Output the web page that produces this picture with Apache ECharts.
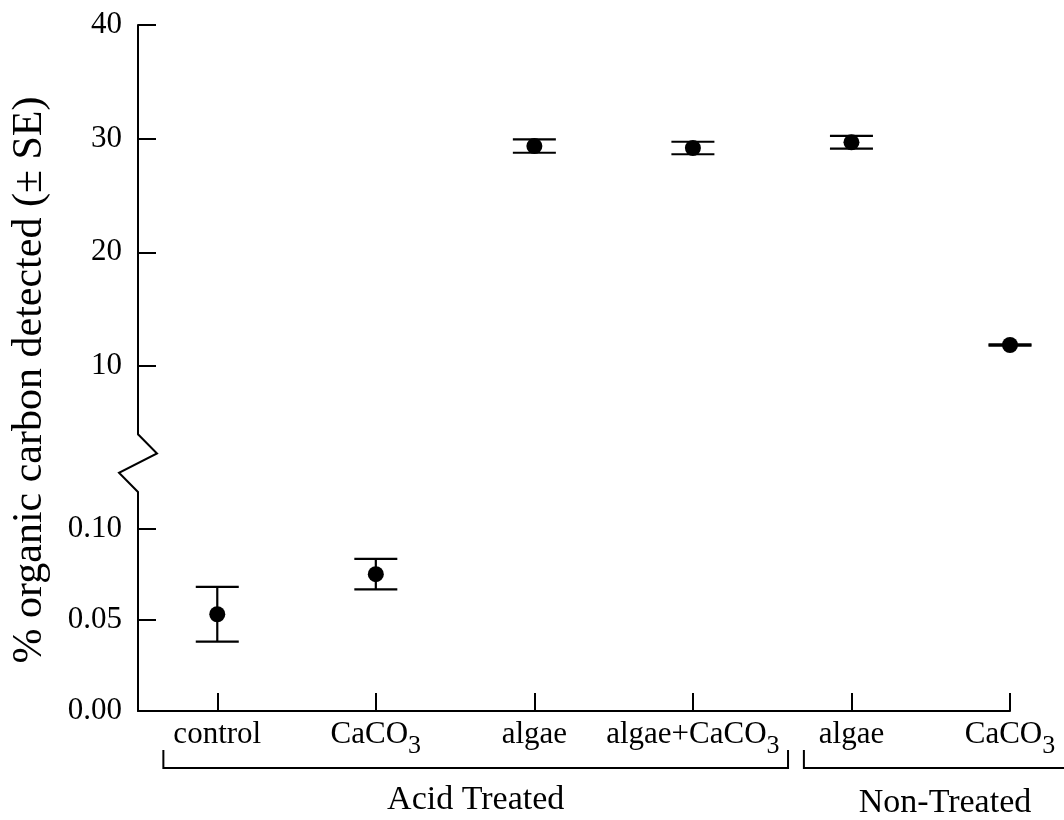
<!DOCTYPE html>
<html><head><meta charset="utf-8">
<script src="https://cdn.jsdelivr.net/npm/echarts@6/dist/echarts.min.js"></script>
<style>html,body{margin:0;padding:0;background:#fff}#c{width:1064px;height:820px}</style>
</head><body><div id="c"></div><script>
// ---- data ----
const categories = ['control', 'CaCO3', 'algae', 'algae+CaCO3', 'algae', 'CaCO3'];
const groups = ['Acid Treated', 'Non-Treated'];
const means = [0.053, 0.075, 29.35, 29.18, 29.68, 11.85];
const se = [0.015, 0.0084, 0.59, 0.55, 0.56, 0.05];
const upperTicks = [10, 20, 30, 40];
const lowerTicks = [0, 0.05, 0.10];
const yTitle = '% organic carbon detected (± SE)';

const FONT = 'Liberation Serif';
const catIdx = categories.map((c, i) => i);
const lowerData = [], upperData = [];
means.forEach((m, i) => { (m < 1 ? lowerData : upperData).push([i, m, se[i]]); });

function catLabel(v) {
  const s = categories[Math.round(v)];
  if (s === undefined) return '';
  return s.endsWith('3') ? '{t|' + s.slice(0, -1) + '}{s|3}' : '{t|' + s + '}';
}

function errRender(params, api) {
  const x = api.value(0), m = api.value(1), e = api.value(2);
  const top = api.coord([x, m + e]), bot = api.coord([x, m - e]);
  const hw = 21.5;
  const style = { stroke: '#000', lineWidth: 2.2 };
  return { type: 'group', children: [
    { type: 'line', shape: { x1: top[0], y1: top[1], x2: bot[0], y2: bot[1] }, style },
    { type: 'line', shape: { x1: top[0] - hw, y1: top[1], x2: top[0] + hw, y2: top[1] }, style },
    { type: 'line', shape: { x1: bot[0] - hw, y1: bot[1], x2: bot[0] + hw, y2: bot[1] }, style }
  ]};
}

const axisLine = { show: true, onZero: false, lineStyle: { color: '#000', width: 2 } };
const chart = echarts.init(document.getElementById('c'), null, { renderer: 'canvas' });
const option = {
  animation: false,
  backgroundColor: '#fff',
  grid: [
    { left: 138, top: 25, width: 872, height: 409.2 },
    { left: 138, top: 492, width: 872, height: 219 }
  ],
  xAxis: [
    { type: 'value', gridIndex: 0, min: -0.5, max: 5, show: false },
    { type: 'value', gridIndex: 1, min: -0.5, max: 5, axisLine: axisLine,
      splitLine: { show: false },
      axisTick: { show: true, inside: true, length: 18, customValues: catIdx, lineStyle: { color: '#000', width: 2 } },
      axisLabel: { show: true, customValues: catIdx, margin: 8, formatter: catLabel,
        rich: {
          t: { fontFamily: FONT, fontSize: 31, lineHeight: 40, verticalAlign: 'top', color: '#000' },
          s: { fontFamily: FONT, fontSize: 26, verticalAlign: 'bottom', color: '#000' }
        } } }
  ],
  yAxis: [
    { type: 'value', gridIndex: 0, min: 4, max: 40, axisLine: axisLine, splitLine: { show: false },
      axisTick: { show: true, inside: true, length: 18, customValues: upperTicks, lineStyle: { color: '#000', width: 2 } },
      axisLabel: { customValues: upperTicks, margin: 16, color: '#000', fontFamily: FONT, fontSize: 31 } },
    { type: 'value', gridIndex: 1, min: 0, max: 0.12, axisLine: axisLine, splitLine: { show: false },
      axisTick: { show: true, inside: true, length: 18, customValues: lowerTicks, lineStyle: { color: '#000', width: 2 } },
      axisLabel: { customValues: lowerTicks, margin: 16, color: '#000', fontFamily: FONT, fontSize: 31,
        formatter: v => v.toFixed(2) } }
  ],
  series: [
    { type: 'custom', xAxisIndex: 0, yAxisIndex: 0, data: upperData, renderItem: errRender, z: 2 },
    { type: 'custom', xAxisIndex: 1, yAxisIndex: 1, data: lowerData, renderItem: errRender, z: 2 },
    { type: 'scatter', xAxisIndex: 0, yAxisIndex: 0, data: upperData.map(d => [d[0], d[1]]), symbolSize: 16, itemStyle: { color: '#000', opacity: 1 }, z: 3 },
    { type: 'scatter', xAxisIndex: 1, yAxisIndex: 1, data: lowerData.map(d => [d[0], d[1]]), symbolSize: 16, itemStyle: { color: '#000', opacity: 1 }, z: 3 }
  ]
};
chart.setOption(option);

// ---- decorations: axis break, group brackets, titles ----
const pU = chart.convertToPixel({ xAxisIndex: 0, yAxisIndex: 0 }, [-0.5, 4]);
const pL = chart.convertToPixel({ xAxisIndex: 1, yAxisIndex: 1 }, [-0.5, 0.12]);
const ax = pU[0], ya = pU[1], yb = pL[1];
const px = v => chart.convertToPixel({ xAxisIndex: 1 }, v);
const lineStyle = { stroke: '#000', lineWidth: 2, fill: null };
const bTop = 750, bBot = 768;
const a0 = px(-0.34), a1 = px(3.6), n0 = px(3.7), n1 = px(5.45);
chart.setOption({
  graphic: [
    { type: 'polyline', shape: { points: [[ax, ya], [ax + 19, ya + (yb - ya) / 3], [ax - 19, ya + 2 * (yb - ya) / 3], [ax, yb]] }, style: lineStyle, z: 10 },
    { type: 'polyline', shape: { points: [[a0, bTop], [a0, bBot], [a1, bBot], [a1, bTop]] }, style: lineStyle },
    { type: 'polyline', shape: { points: [[n0, bTop], [n0, bBot], [n1, bBot], [n1, bTop]] }, style: lineStyle },
    { type: 'text', x: (a0 + a1) / 2, y: 800, style: { text: groups[0], font: '34px "Liberation Serif"', fill: '#000', textAlign: 'center', textVerticalAlign: 'middle' } },
    { type: 'text', x: px(4.59), y: 803, style: { text: groups[1], font: '34px "Liberation Serif"', fill: '#000', textAlign: 'center', textVerticalAlign: 'middle' } },
    { type: 'text', x: 30, y: 380, rotation: Math.PI / 2, style: { text: yTitle, font: '42px "Liberation Serif"', fill: '#000', textAlign: 'center', textVerticalAlign: 'middle' } }
  ]
});
</script></body></html>
